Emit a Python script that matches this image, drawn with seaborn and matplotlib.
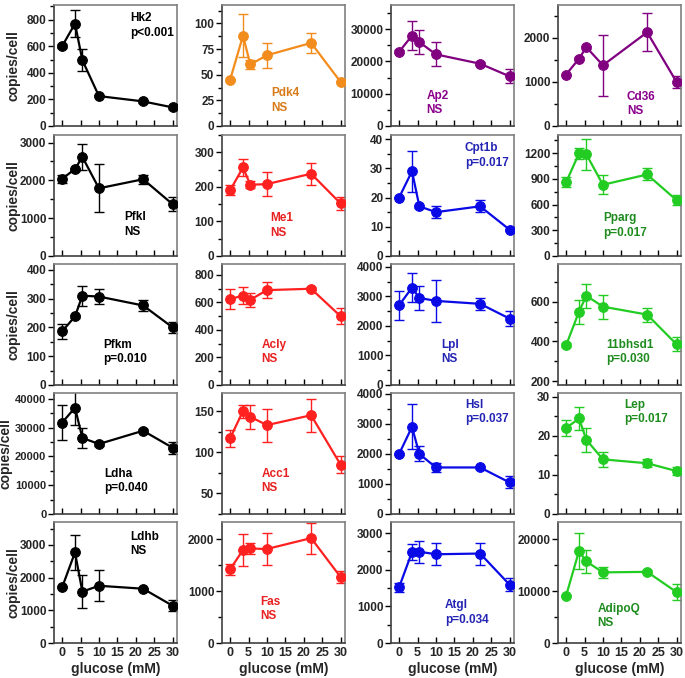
import numpy as np
import pandas as pd
import matplotlib
matplotlib.use("Agg")
import matplotlib.pyplot as plt
import seaborn as sns
from matplotlib.ticker import MultipleLocator

sns.set_theme(style="white")
plt.rcParams['font.family'] = ['Liberation Sans', 'DejaVu Sans']
plt.rcParams['font.weight'] = 'bold'

glucose = [0, 3.5, 5.5, 10, 22, 30]

genes = ["Hk2", "Pdk4", "Ap2", "Cd36",
         "Pfkl", "Me1", "Cpt1b", "Pparg",
         "Pfkm", "Acly", "Lpl", "11bhsd1",
         "Ldha", "Acc1", "Hsl", "Lep",
         "Ldhb", "Fas", "Atgl", "AdipoQ"]
pvals = ["p<0.001", "NS", "NS", "NS",
         "NS", "NS", "p=0.017", "p=0.017",
         "p=0.010", "NS", "NS", "p=0.030",
         "p=0.040", "NS", "p=0.037", "p=0.017",
         "NS", "NS", "p=0.034", "NS"]

hk2 = [600, 770, 495, 225, 185, 140]
hk2_err = [15, 100, 85, 10, 10, 10]
pdk4 = [45, 88, 60, 69, 81, 43]
pdk4_err = [1, 21, 4, 12, 10, 1]
ap2 = [23000, 28000, 26000, 22200, 19300, 15400]
ap2_err = [400, 4500, 3800, 3700, 500, 2200]
cd36 = [1170, 1530, 1790, 1380, 2130, 1000]
cd36_err = [20, 30, 30, 690, 430, 140]

pfkl = [2040, 2300, 2620, 1790, 2030, 1370]
pfkl_err = [100, 40, 340, 630, 120, 180]
me1 = [190, 256, 206, 208, 238, 152]
me1_err = [14, 25, 10, 35, 32, 18]
cpt1b = [20, 29, 17, 15, 17, 9]
cpt1b_err = [0.3, 7, 0.5, 2, 2, 0.3]
pparg = [860, 1195, 1185, 830, 950, 650]
pparg_err = [60, 60, 180, 110, 70, 60]

pfkm = [186, 238, 310, 307, 276, 200]
pfkm_err = [25, 5, 35, 25, 20, 20]
acly = [625, 650, 620, 690, 700, 500]
acly_err = [70, 60, 50, 60, 10, 60]
lpl = [2700, 3300, 2950, 2850, 2750, 2250]
lpl_err = [500, 500, 400, 700, 200, 250]
hsd = [380, 550, 630, 575, 535, 385]
hsd_err = [10, 60, 60, 60, 35, 35]

ldha = [31700, 36900, 26400, 24300, 28900, 23000]
ldha_err = [6000, 6000, 3500, 800, 500, 2000]
acc1 = [117, 150, 143, 133, 145, 85]
acc1_err = [10, 8, 15, 20, 20, 10]
hsl = [2000, 2900, 2000, 1550, 1550, 1050]
hsl_err = [40, 750, 250, 150, 40, 200]
lep = [22, 24.5, 19, 14, 13, 11]
lep_err = [2, 3, 3, 2, 1, 1]

ldhb = [1700, 2770, 1570, 1750, 1660, 1140]
ldhb_err = [30, 540, 510, 480, 30, 160]
fas = [1420, 1790, 1820, 1810, 2020, 1270]
fas_err = [110, 310, 110, 300, 300, 120]
atgl = [1520, 2480, 2490, 2420, 2440, 1590]
atgl_err = [130, 220, 300, 300, 300, 180]
adipoq = [9100, 17700, 15700, 13600, 13700, 9800]
adipoq_err = [200, 3400, 2300, 1100, 300, 1500]

values = [hk2, pdk4, ap2, cd36, pfkl, me1, cpt1b, pparg, pfkm, acly, lpl, hsd,
          ldha, acc1, hsl, lep, ldhb, fas, atgl, adipoq]
errors = [hk2_err, pdk4_err, ap2_err, cd36_err, pfkl_err, me1_err, cpt1b_err, pparg_err,
          pfkm_err, acly_err, lpl_err, hsd_err, ldha_err, acc1_err, hsl_err, lep_err,
          ldhb_err, fas_err, atgl_err, adipoq_err]

# styling per panel
ylims = [(0, 910), (0, 118), (0, 37500), (0, 2750),
         (0, 3200), (0, 350), (0, 41.4), (0, 1410),
         (0, 420), (0, 880), (0, 4100), (180, 790),
         (0, 42000), (25, 172), (0, 4030), (0, 31),
         (0, 3700), (0, 2330), (0, 3300), (0, 23300)]
major = [200, 25, 10000, 1000, 1000, 100, 10, 300, 100, 200, 1000, 200,
         10000, 50, 1000, 10, 1000, 1000, 1000, 10000]

BLACK = ('#000000', '#000000')
ORANGE = ('#F28C1C', '#D87A18')
RED = ('#FF2020', '#E82020')
PURPLE = ('#800080', '#8B008B')
BLUE = ('#0A0AE6', '#2424B4')
GREEN = ('#22CC22', '#1E8B1E')
colors = [BLACK, ORANGE, PURPLE, PURPLE,
          BLACK, RED, BLUE, GREEN,
          BLACK, RED, BLUE, GREEN,
          BLACK, RED, BLUE, GREEN,
          BLACK, RED, BLUE, GREEN]
# text anchor (x frac, y frac of first line centre)
text_pos = [(0.62, 0.89), (0.40, 0.27), (0.29, 0.25), (0.56, 0.24),
            (0.57, 0.32), (0.39, 0.31), (0.60, 0.89), (0.37, 0.31),
            (0.40, 0.33), (0.32, 0.33), (0.41, 0.33), (0.39, 0.33),
            (0.41, 0.33), (0.32, 0.33), (0.60, 0.90), (0.54, 0.90),
            (0.62, 0.88), (0.31, 0.34), (0.44, 0.31), (0.32, 0.28)]
line_gap = 0.118

W, H = 685, 678
fig = plt.figure(figsize=(W / 100, H / 100), dpi=100)
fig.patch.set_facecolor('white')

col_left = [54, 222, 391, 558]
row_top = [5, 135, 264, 393, 522]
aw, ah = 123, 121
ylabel_x = [-0.275, -0.275, -0.275, -0.335, -0.275]

for i in range(20):
    r, c = divmod(i, 4)
    ax = fig.add_axes([col_left[c] / W, 1 - (row_top[r] + ah) / H, aw / W, ah / H])
    lc, tc = colors[i]
    df = pd.DataFrame({"glucose": glucose, "val": values[i]})
    ax.errorbar(glucose, values[i], yerr=errors[i], fmt='none', ecolor=lc,
                elinewidth=1.0, capsize=3.5, capthick=1.0, zorder=2)
    sns.lineplot(data=df, x="glucose", y="val", ax=ax, color=lc, lw=1.6,
                 marker='o', markersize=7, markeredgecolor=lc, markerfacecolor=lc,
                 zorder=3)
    ax.set_xlim(-2.2, 31.2)
    ax.set_ylim(*ylims[i])
    ax.set_xlabel("")
    ax.set_ylabel("")
    ax.xaxis.set_major_locator(MultipleLocator(5))
    ax.yaxis.set_major_locator(MultipleLocator(major[i]))
    ax.yaxis.set_minor_locator(MultipleLocator(major[i] / 2))
    ax.tick_params(axis='y', which='major', direction='out', length=4, width=1,
                   labelsize=8.5 if i != 12 else 8, pad=1.5, left=True, color='black')
    ax.tick_params(axis='y', which='minor', direction='out', length=3, width=1,
                   left=True, color='black')
    ax.tick_params(axis='x', which='major', direction='in', length=4, width=1,
                   bottom=True, color='black', labelsize=9, pad=3)
    if r < 4:
        ax.tick_params(axis='x', labelbottom=False)
    for lab in ax.get_yticklabels() + ax.get_xticklabels():
        lab.set_fontweight('bold')
    for s in ['top', 'right']:
        ax.spines[s].set_color('#808080')
        ax.spines[s].set_linewidth(1.2)
    for s in ['left', 'bottom']:
        ax.spines[s].set_color('#404040')
        ax.spines[s].set_linewidth(1.2)
    ax.set_facecolor('white')
    tx, ty = text_pos[i]
    ax.text(tx, ty, genes[i], transform=ax.transAxes,
            ha='left', va='center', color=tc, fontsize=8.5, fontweight='bold')
    ax.text(tx, ty - line_gap, pvals[i], transform=ax.transAxes,
            ha='left', va='center', color=tc, fontsize=8.5, fontweight='bold')
    if c == 0:
        ax.set_ylabel("copies/cell", fontsize=10, fontweight='bold')
        ax.yaxis.set_label_coords(ylabel_x[r], 0.5)
    if r == 4:
        ax.set_xlabel("glucose (mM)", fontsize=10, fontweight='bold', labelpad=2)

fig.savefig("out.png", dpi=100, facecolor='white')
